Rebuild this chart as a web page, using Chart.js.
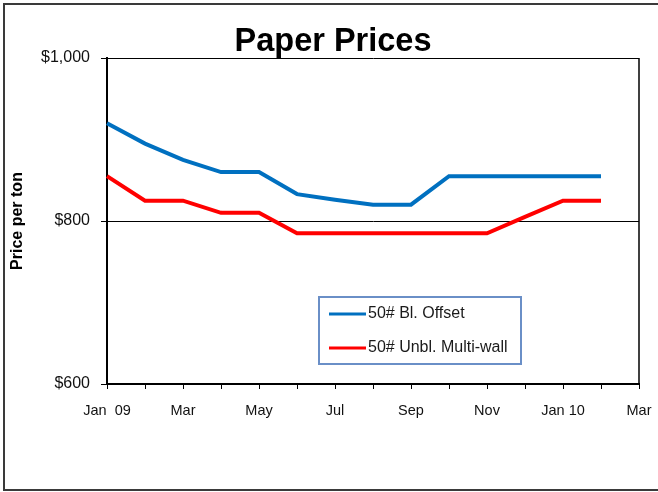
<!DOCTYPE html>
<html>
<head>
<meta charset="utf-8">
<script src="https://cdn.jsdelivr.net/npm/chart.js@4"></script>
<style>
  html, body { margin: 0; padding: 0; background: #fff; overflow: hidden; }
  #wrap { position: relative; width: 658px; height: 492px; overflow: hidden; }
  #frame { position: absolute; left: 3px; top: 3px; width: 700px; height: 484px; border: 2px solid #3a3a3a; }
  #chart { position: absolute; left: 0; top: 0; }
</style>
</head>
<body>
<div id="wrap">
  <div id="frame"></div>
  <canvas id="chart" width="658" height="492"></canvas>
</div>
<script>
const months = ["Jan 09", "Feb", "Mar", "Apr", "May", "Jun", "Jul", "Aug", "Sep", "Oct", "Nov", "Dec", "Jan 10", "Feb 10", "Mar 10"];
const tickLabels = ["Jan  09", "", "Mar", "", "May", "", "Jul", "", "Sep", "", "Nov", "", "Jan 10", "", "Mar"];
const offsetPrices = [920, 895, 875, 860, 860, 833, 826, 820, 820, 855, 855, 855, 855, 855];
const multiwallPrices = [855, 825, 825, 810, 810, 785, 785, 785, 785, 785, 785, 805, 825, 825];
const yTicks = [600, 800, 1000];

const font = "'Liberation Sans', Arial, sans-serif";

// right edge of the plot and the legend inside the plot
const plotExtras = {
  id: "plotExtras",
  afterDraw(chart) {
    const { ctx, chartArea: a } = chart;
    ctx.save();
    ctx.strokeStyle = "#000";
    ctx.lineWidth = 1.5;
    ctx.beginPath();
    ctx.moveTo(a.right, a.top);
    ctx.lineTo(a.right, a.bottom);
    ctx.stroke();

    const bx = a.left + 212, by = a.top + 239, bw = 202, bh = 67;
    ctx.fillStyle = "#fff";
    ctx.fillRect(bx, by, bw, bh);
    ctx.strokeStyle = "#6a8fc7";
    ctx.lineWidth = 2;
    ctx.strokeRect(bx, by, bw, bh);

    ctx.font = "16px " + font;
    ctx.textBaseline = "middle";
    ctx.fillStyle = "#1a1a1a";
    chart.data.datasets.forEach((ds, i) => {
      const y = by + 17 + i * 34;
      ctx.strokeStyle = ds.borderColor;
      ctx.lineWidth = 3;
      ctx.beginPath();
      ctx.moveTo(bx + 10, y);
      ctx.lineTo(bx + 47, y);
      ctx.stroke();
      ctx.fillText(ds.label, bx + 49, y);
    });
    ctx.restore();
  },
};

new Chart(document.getElementById("chart"), {
  type: "line",
  data: {
    labels: months,
    datasets: [
      {
        label: "50# Bl. Offset",
        data: offsetPrices,
        borderColor: "#0070c0",
        borderWidth: 4,
        pointRadius: 0,
        tension: 0,
      },
      {
        label: "50# Unbl. Multi-wall",
        data: multiwallPrices,
        borderColor: "#ff0000",
        borderWidth: 4,
        pointRadius: 0,
        tension: 0,
      },
    ],
  },
  options: {
    responsive: false,
    animation: false,
    layout: { padding: { left: 8, right: 0, top: 0, bottom: 0 } },
    plugins: {
      legend: { display: false },
      tooltip: { enabled: false },
      title: {
        display: true,
        text: "Paper Prices",
        color: "#000",
        font: { family: font, size: 32.5, weight: "bold", lineHeight: 1 },
        padding: { top: 25.5, bottom: 0 },
      },
    },
    scales: {
      x: {
        offset: false,
        grid: { drawOnChartArea: false, drawTicks: true, tickLength: 5, color: "#000", lineWidth: 1 },
        border: { display: true, color: "#000", width: 2 },
        ticks: {
          autoSkip: false,
          maxRotation: 0,
          padding: 13,
          color: "#111",
          font: { family: font, size: 14.5 },
          callback: (value, index) => tickLabels[index],
        },
        afterFit: (scale) => {
          scale.height = 108;
          scale.paddingRight = 19;
        },
      },
      y: {
        min: 600,
        max: 1000,
        afterBuildTicks: (scale) => { scale.ticks = yTicks.map((v) => ({ value: v })); },
        grid: { drawOnChartArea: true, drawTicks: true, tickLength: 6, color: "#000", lineWidth: 1 },
        border: { display: true, color: "#000", width: 2 },
        ticks: {
          padding: 11,
          color: "#111",
          font: { family: font, size: 16 },
          callback: (value) => "$" + value.toLocaleString("en-US"),
        },
        title: {
          display: true,
          text: "Price per ton",
          color: "#000",
          font: { family: font, size: 16, weight: "bold" },
          padding: { top: 0, bottom: 0 },
        },
        afterFit: (scale) => { scale.width = 99; },
      },
    },
  },
  plugins: [plotExtras],
});
</script>
</body>
</html>
